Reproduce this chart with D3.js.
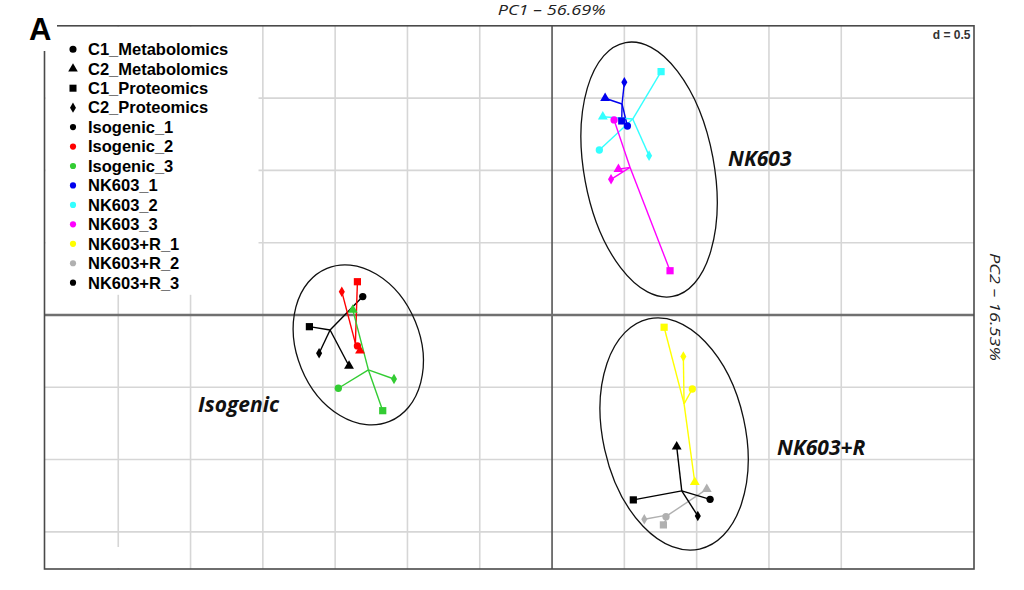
<!DOCTYPE html>
<html><head><meta charset="utf-8">
<script src="https://cdn.jsdelivr.net/npm/d3@7"></script>
<style>body{margin:0;background:#fff}svg{display:block}</style>
</head><body><svg id="c" width="1024" height="590"></svg>
<script>
// ---- data ----
const blocks = ["C1_Metabolomics","C2_Metabolomics","C1_Proteomics","C2_Proteomics"];
const blockShapes = ["circle","triangle","square","diamond"];
const samples = ["Isogenic_1","Isogenic_2","Isogenic_3","NK603_1","NK603_2","NK603_3","NK603+R_1","NK603+R_2","NK603+R_3"];
const sampleColors = ["#000000","#ff0000","#33cc33","#0000ee","#33ffff","#ff00ff","#ffff00","#b0b0b0","#000000"];
// coordinates per sample (order of samples above)
const c1MetX  = [-1.309,-1.346,-1.478, 0.521, 0.327, 0.429, 0.970, 0.788, 1.093];
const c1MetY  = [ 0.127,-0.214,-0.507, 1.307, 1.141, 1.349,-0.512,-1.395,-1.275];
const c2MetX  = [-1.404,-1.328,-1.378, 0.367, 0.351, 0.459, 0.987, 1.070, 0.862];
const c2MetY  = [-0.353,-0.247, 0.035, 1.499, 1.371, 1.008,-1.157,-1.205,-0.911];
const c1ProtX = [-1.678,-1.346,-1.171, 0.482, 0.754, 0.816, 0.775, 0.770, 0.562];
const c1ProtY = [-0.081, 0.230,-0.662, 1.342, 1.683, 0.306,-0.085,-1.452,-1.279];
const c2ProtX = [-1.611,-1.454,-1.093, 0.500, 0.671, 0.408, 0.908, 0.638, 1.008];
const c2ProtY = [-0.265, 0.161,-0.443, 1.609, 1.102, 0.938,-0.288,-1.413,-1.390];
// reference (synthetic) sample positions = star centres
const refX    = [-1.535,-1.360,-1.270, 0.484, 0.558, 0.539, 0.913, 0.804, 0.897];
const refY    = [-0.104,-0.196,-0.380, 1.459, 1.355, 1.021,-0.615,-1.383,-1.217];
// group ellipses
const groups      = ["Isogenic","NK603","NK603+R"];
const ellCX       = [-1.340, 0.671, 0.844];
const ellCY       = [-0.207, 1.006,-0.823];
const ellMajor    = [ 0.572, 0.893, 0.815];
const ellMinor    = [ 0.426, 0.449, 0.492];
const ellTilt     = [ 22.2, 10.5, 12.5];
const groupLabelX = [-2.448, 1.217, 1.556];
const groupLabelY = [-0.669, 1.030,-0.968];
const gridXTicks = [-3,-2.5,-2,-1.5,-1,-0.5,0.5,1,1.5,2];
const gridYTicks = [-1.5,-1,-0.5,0.5,1,1.5];
const xTitle = "PC1 \u2013 56.69%";
const yTitle = "PC2 \u2013 16.53%";
const gridLabel = "d = 0.5";

// ---- drawing ----
const svg = d3.select("#c");
const x = d3.scaleLinear().domain([-3.51, 2.918]).range([44.5, 974]);
const y = d3.scaleLinear().domain([-1.757, 2.0]).range([569, 25.8]);
const k = x(1) - x(0);

const grid = svg.append("g");
grid.selectAll("line.gx").data(gridXTicks).join("line")
  .attr("x1", d => x(d)).attr("x2", d => x(d))
  .attr("y1", y.range()[1]).attr("y2", y.range()[0])
  .attr("stroke", "#d6d6d6").attr("stroke-width", 1.6);
grid.selectAll("line.gy").data(gridYTicks).join("line")
  .attr("y1", d => y(d)).attr("y2", d => y(d))
  .attr("x1", x.range()[0]).attr("x2", x.range()[1])
  .attr("stroke", "#d6d6d6").attr("stroke-width", 1.6);
// origin lines
svg.append("line").attr("x1", x(0)).attr("x2", x(0)).attr("y1", y.range()[1]).attr("y2", y.range()[0])
  .attr("stroke", "#555").attr("stroke-width", 1.6);
svg.append("line").attr("y1", y(0)).attr("y2", y(0)).attr("x1", x.range()[0]).attr("x2", x.range()[1])
  .attr("stroke", "#707070").attr("stroke-width", 2.6);

// ellipses
groups.forEach((g, i) => {
  svg.append("ellipse")
    .attr("transform", `translate(${x(ellCX[i])},${y(ellCY[i])}) rotate(${-ellTilt[i]})`)
    .attr("rx", ellMinor[i] * k).attr("ry", ellMajor[i] * k)
    .attr("fill", "none").attr("stroke", "#111").attr("stroke-width", 1.3);
  svg.append("text")
    .attr("x", x(groupLabelX[i])).attr("y", y(groupLabelY[i]))
    .attr("font-family", "Open Sans, sans-serif").attr("font-weight", "bold").attr("font-style", "italic")
    .attr("font-size", 21).attr("fill", "#111")
    .text(g);
});

const blockX = [c1MetX, c2MetX, c1ProtX, c2ProtX];
const blockY = [c1MetY, c2MetY, c1ProtY, c2ProtY];
const symType = {circle: d3.symbolCircle, triangle: d3.symbolTriangle, square: d3.symbolSquare, diamond: d3.symbolDiamond};
const symSize = {circle: 42, triangle: 42, square: 52, diamond: 32};

// star segments
samples.forEach((s, i) => {
  blocks.forEach((b, j) => {
    svg.append("line")
      .attr("x1", x(refX[i])).attr("y1", y(refY[i]))
      .attr("x2", x(blockX[j][i])).attr("y2", y(blockY[j][i]))
      .attr("stroke", sampleColors[i]).attr("stroke-width", 1.4);
  });
});
samples.forEach((s, i) => {
  blocks.forEach((b, j) => {
    const sh = blockShapes[j];
    svg.append("path")
      .attr("d", d3.symbol().type(symType[sh]).size(symSize[sh])())
      .attr("transform", `translate(${x(blockX[j][i])},${y(blockY[j][i])})`)
      .attr("fill", sampleColors[i]);
  });
});

// white mask under legend & corner gaps
svg.append("rect").attr("x", 45.5).attr("y", 26.8).attr("width", 213).attr("height", 268).attr("fill", "#fff");
svg.append("rect").attr("x", 100).attr("y", 547).attr("width", 40).attr("height", 21).attr("fill", "#fff");

// frame
svg.append("rect").attr("x", x.range()[0]).attr("y", y.range()[1])
  .attr("width", x.range()[1] - x.range()[0]).attr("height", y.range()[0] - y.range()[1])
  .attr("fill", "none").attr("stroke", "#4a4a4a").attr("stroke-width", 1.6);
svg.append("rect").attr("x", 0).attr("y", 0).attr("width", 57).attr("height", 51).attr("fill", "#fff");

// d = 0.5
svg.append("text").attr("x", 970.5).attr("y", 38.5).attr("text-anchor", "end")
  .attr("font-family", "Liberation Sans, Arial, sans-serif").attr("font-weight", "bold")
  .attr("font-size", 12).attr("fill", "#333").text(gridLabel);

// panel letter
svg.append("text").attr("x", 29).attr("y", 39.5)
  .attr("font-family", "Liberation Sans, Arial, sans-serif").attr("font-weight", "bold")
  .attr("font-size", 31).attr("fill", "#000").text("A");

// axis titles
svg.append("text").attr("x", 551.7).attr("y", 15).attr("text-anchor", "middle")
  .attr("font-family", "Open Sans, sans-serif").attr("font-style", "italic")
  .attr("font-size", 15).attr("textLength", 108).attr("lengthAdjust", "spacingAndGlyphs")
  .attr("fill", "#222").text(xTitle);
svg.append("text").attr("transform", "translate(990,307) rotate(90)").attr("text-anchor", "middle")
  .attr("font-family", "Open Sans, sans-serif").attr("font-style", "italic")
  .attr("font-size", 15).attr("textLength", 108).attr("lengthAdjust", "spacingAndGlyphs")
  .attr("fill", "#222").text(yTitle);

// legend
const legendItems = blocks.map((b, j) => ({label: b, shape: blockShapes[j], color: "#000", size: symSize[blockShapes[j]] * 0.95}))
  .concat(samples.map((s, i) => ({label: s, shape: "circle", color: sampleColors[i], size: 30})));
const lg = svg.append("g");
legendItems.forEach((it, i) => {
  const cy = 49.3 + i * 19.45;
  lg.append("path").attr("d", d3.symbol().type(symType[it.shape]).size(it.size)())
    .attr("transform", `translate(73,${cy})`).attr("fill", it.color);
  lg.append("text").attr("x", 88).attr("y", cy + 5.8)
    .attr("font-family", "Liberation Sans, Arial, sans-serif").attr("font-weight", "bold")
    .attr("font-size", 16.5).attr("fill", "#000").text(it.label);
});
</script></body></html>
